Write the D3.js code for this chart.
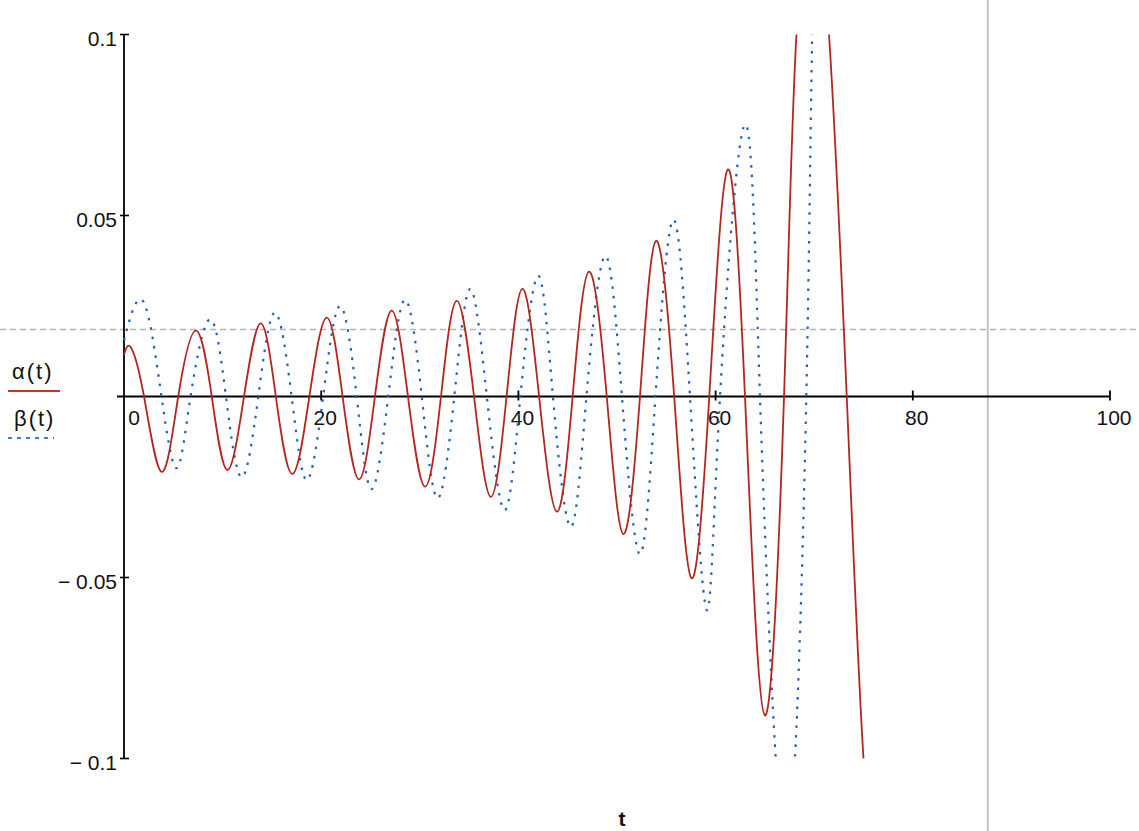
<!DOCTYPE html>
<html>
<head>
<meta charset="utf-8">
<script src="https://cdn.jsdelivr.net/npm/d3@7"></script>
<style>
  html, body { margin:0; padding:0; background:#fff; }
  svg text { font-family: "Liberation Sans", Arial, sans-serif; fill:#111; }
</style>
</head>
<body>
<div class="container"></div>
<script>
// values
var tAlpha = [0, 0.68, 2.03, 3.82, 5.5, 7.3, 8.9, 10.48, 12.17, 13.86, 15.4, 17.06, 18.8, 20.56,
  22.17, 23.83, 25.45, 27.14, 28.8, 30.53, 32.15, 33.74, 35.5, 37.2, 38.8, 40.4, 42.1, 43.9,
  45.5, 47.16, 48.96, 50.64, 52.33, 53.96, 55.8, 57.56, 59.36, 61.2, 62.98, 65.0, 66.94,
  68.2, 69.9, 71.5, 73.3, 75.0, 76.3];
var alpha = [0.0115, 0.0136, 0, -0.0208, 0, 0.0182, 0, -0.0203, 0, 0.0202, 0, -0.0214, 0, 0.0218,
  0, -0.0229, 0, 0.0237, 0, -0.0249, 0, 0.0264, 0, -0.0277, 0, 0.0297, 0, -0.0318,
  0, 0.0345, 0, -0.038, 0, 0.043, 0, -0.0502, 0, 0.0626, 0, -0.0881, 0,
  0.1, 0.13, 0.1, 0, -0.1, -0.125];

var tBeta = [0, 1.96, 3.8, 5.34, 6.75, 8.72, 10.34, 11.93, 13.62, 15.3, 17.0, 18.53, 20.2,
  21.9, 23.6, 25.1, 26.8, 28.5, 30.2, 31.8, 33.5, 35.1, 36.8, 38.6, 40.2, 42.0, 43.5, 45.3,
  46.9, 48.8, 50.5, 52.3, 53.9, 55.7, 57.4, 59.1, 60.45, 62.98, 64.5, 66.1, 67.1, 68.05,
  69.2, 69.8, 70.4];
var beta = [0.0155, 0.0262, 0, -0.0198, 0, 0.0213, 0, -0.0223, 0, 0.0232, 0, -0.0231, 0,
  0.025, 0, -0.0256, 0, 0.0267, 0, -0.0281, 0, 0.0297, 0, -0.0314, 0, 0.0333, 0, -0.036,
  0, 0.0388, 0, -0.0435, 0, 0.0488, 0, -0.059, 0, 0.0751, 0, -0.1, -0.118, -0.1,
  0, 0.1, 0.15];

var xTicks = [0, 20, 40, 60, 80, 100];
var yTicks = [0.1, 0.05, -0.05, -0.1];
var yTickLabels = ["0.1", "0.05", "\u2212 0.05", "\u2212 0.1"];

var markerT = 87.6;     // vertical marker
var markerV = 0.0185;   // horizontal marker

var width = 1139, height = 831;

var svg = d3.select(".container").append("svg").attr("width", width).attr("height", height);

var x = d3.scaleLinear().domain([0, 100]).range([124, 1110]);
var y = d3.scaleLinear().domain([-0.1, 0.1]).range([758.5, 34.5]);

svg.append("defs").append("clipPath").attr("id", "plotclip")
  .append("rect")
  .attr("x", x(0) - 4).attr("y", y(0.1))
  .attr("width", x(100) - x(0) + 8).attr("height", y(-0.1) - y(0.1));

// markers
svg.append("line")
  .attr("x1", 0).attr("x2", width)
  .attr("y1", y(markerV)).attr("y2", y(markerV))
  .attr("stroke", "#b4b4b4").attr("stroke-width", 1.5).attr("stroke-dasharray", "6,4");
svg.append("line")
  .attr("x1", x(markerT)).attr("x2", x(markerT))
  .attr("y1", 0).attr("y2", height)
  .attr("stroke", "#c4c4c4").attr("stroke-width", 2);

// axes
var axes = svg.append("g").attr("stroke", "#000");
axes.append("line")
  .attr("x1", x(0) - 7).attr("x2", x(100))
  .attr("y1", y(0)).attr("y2", y(0)).attr("stroke-width", 1.8);
axes.append("line")
  .attr("x1", x(0)).attr("x2", x(0))
  .attr("y1", y(0.1)).attr("y2", y(-0.1)).attr("stroke-width", 1.8);

axes.selectAll(".xt").data(xTicks.slice(1)).enter().append("line")
  .attr("class", "xt")
  .attr("x1", function(d){ return x(d); }).attr("x2", function(d){ return x(d); })
  .attr("y1", y(0) - 6).attr("y2", y(0) + 4).attr("stroke-width", 1.8);
axes.selectAll(".yt").data(yTicks).enter().append("line")
  .attr("class", "yt")
  .attr("x1", x(0) - 4).attr("x2", x(0) + 5)
  .attr("y1", function(d){ return y(d); }).attr("y2", function(d){ return y(d); })
  .attr("stroke-width", 1.6);

svg.selectAll(".xl").data(xTicks).enter().append("text")
  .attr("class", "xl")
  .attr("x", function(d){ return d === 0 ? x(d) + 10 : x(d) + 4; })
  .attr("y", y(0) + 28)
  .attr("text-anchor", "middle")
  .attr("font-size", 21)
  .text(function(d){ return d; });

svg.selectAll(".yl").data(yTicks).enter().append("text")
  .attr("class", "yl")
  .attr("x", x(0) - 7)
  .attr("y", function(d){ return y(d) + 11; })
  .attr("text-anchor", "end")
  .attr("font-size", 21)
  .text(function(d, i){ return yTickLabels[i]; });

// traces
var plot = svg.append("g").attr("clip-path", "url(#plotclip)");

function makeLine(ts, vs){
  var pts = ts.map(function(t, i){ return [t, vs[i]]; });
  return d3.line()
    .x(function(d){ return x(d[0]); })
    .y(function(d){ return y(d[1]); })
    .curve(d3.curveNatural)(pts);
}

plot.append("path")
  .attr("d", makeLine(tBeta, beta))
  .attr("fill", "none").attr("stroke", "#1f5fbf")
  .attr("stroke-width", 2.2).attr("stroke-dasharray", "2.5,7");

plot.append("path")
  .attr("d", makeLine(tAlpha, alpha))
  .attr("fill", "none").attr("stroke", "#b3261e")
  .attr("stroke-width", 1.8);

// legend
svg.append("text").attr("x", 12).attr("y", 379).attr("font-size", 22)
  .attr("letter-spacing", 2).text("\u03b1(t)");
svg.append("line").attr("x1", 8).attr("x2", 60).attr("y1", 391).attr("y2", 391)
  .attr("stroke", "#c0392b").attr("stroke-width", 2);
svg.append("text").attr("x", 14).attr("y", 426).attr("font-size", 22)
  .attr("letter-spacing", 2).text("\u03b2(t)");
svg.append("line").attr("x1", 8).attr("x2", 54).attr("y1", 438).attr("y2", 438)
  .attr("stroke", "#3a7fd0").attr("stroke-width", 2).attr("stroke-dasharray", "4,5");

// axis name
svg.append("text").attr("x", 622).attr("y", 826).attr("text-anchor", "middle")
  .attr("font-size", 21).attr("font-weight", "bold").text("t");
</script>
</body>
</html>
